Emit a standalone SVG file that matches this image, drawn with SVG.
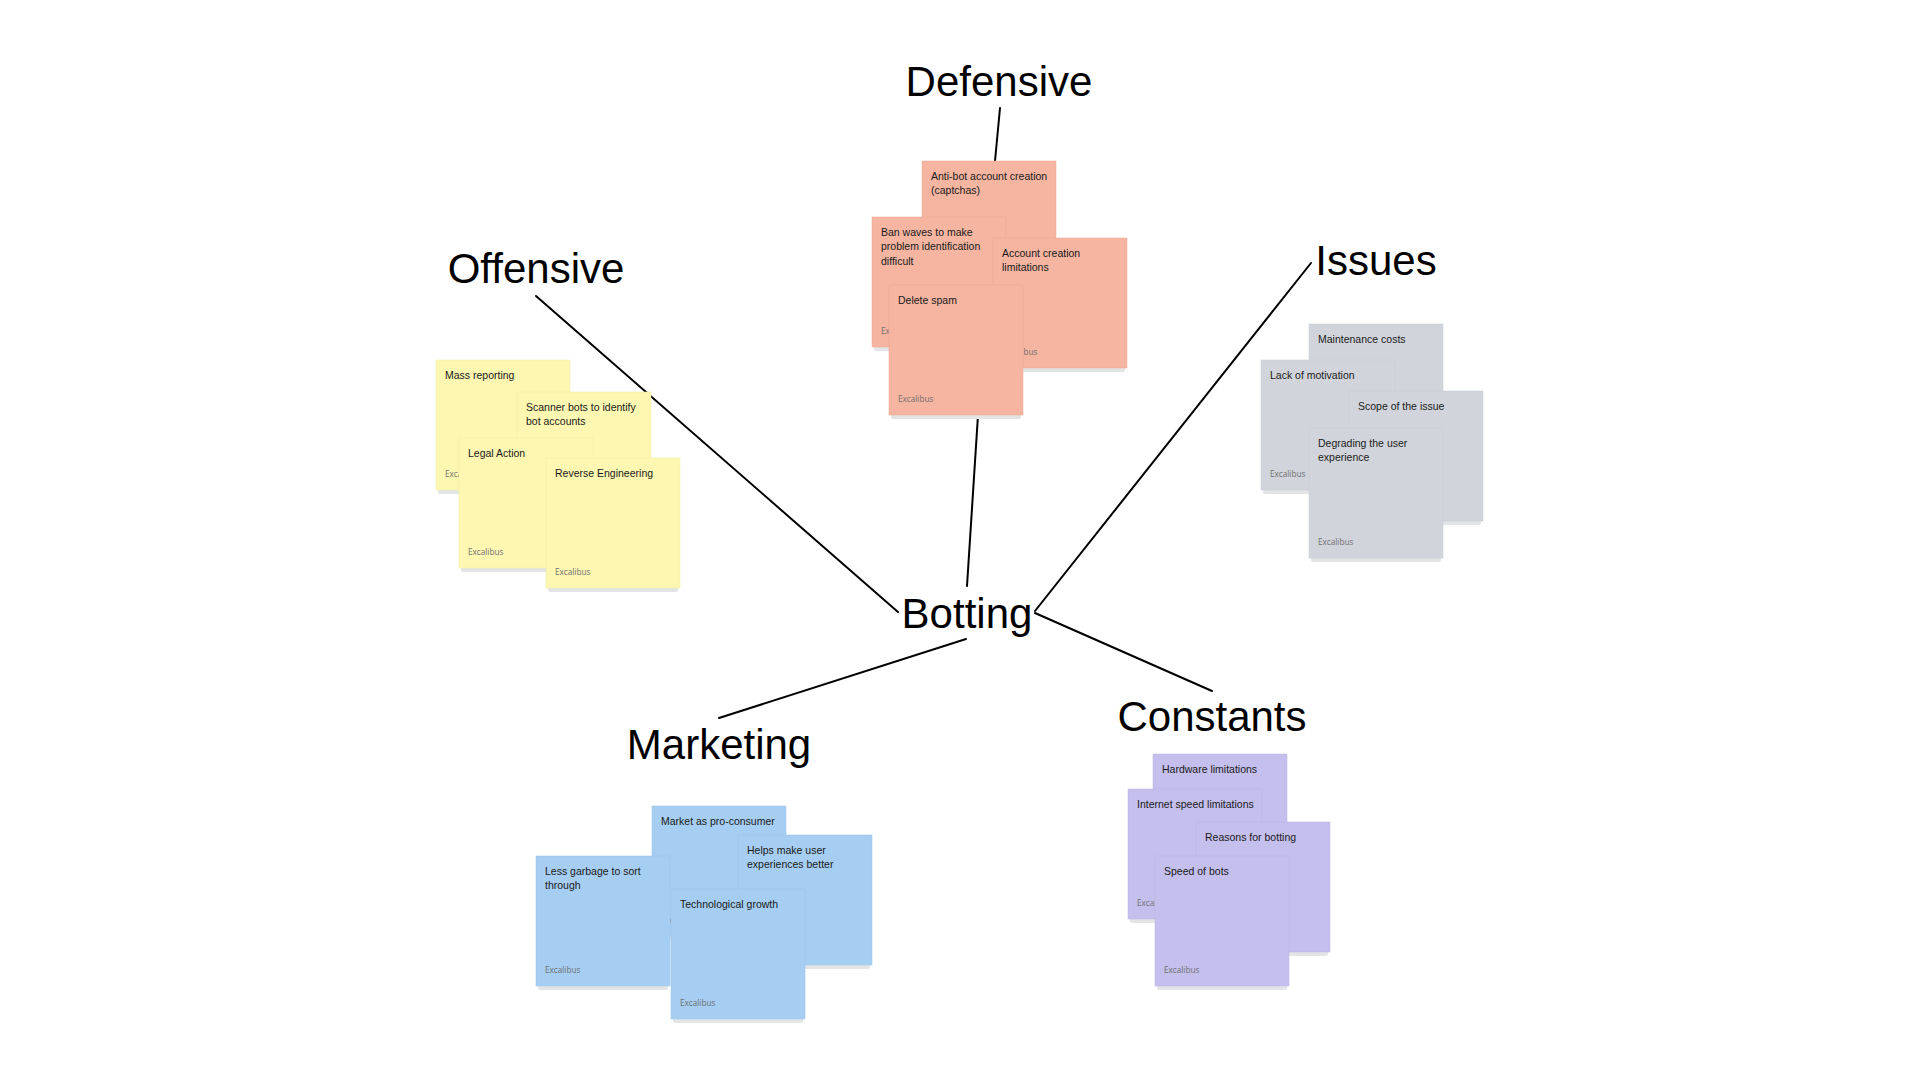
<svg xmlns="http://www.w3.org/2000/svg" width="1920" height="1080" viewBox="0 0 1920 1080">
<style>
.title{font-family:"Liberation Sans",Arial,sans-serif;font-size:42px;fill:#000;text-anchor:middle}
.nt{font-family:"Liberation Sans",Arial,sans-serif;font-size:10.5px;fill:#1a1a1a}
.au{font-family:"Open Sans","Noto Sans",sans-serif;font-size:8.2px;fill:#6f6f6f}
.sh{fill:#e2e4e6}
.sal{fill:#f5b5a1;stroke:#eda995;stroke-width:0.5}
.yel{fill:#fdf7b2;stroke:#f2eca6;stroke-width:0.5}
.gry{fill:#d1d5db;stroke:#c8ccd2;stroke-width:0.5}
.blu{fill:#a6cef2;stroke:#9cc4e8;stroke-width:0.5}
.pur{fill:#c5bfed;stroke:#bbb5e3;stroke-width:0.5}
.ln{stroke:#000;stroke-width:2;fill:none;stroke-linecap:round}
</style>
<defs>
<rect id="shadow" class="sh" x="2" y="128" width="130" height="6" rx="2"/>
</defs>
<rect width="1920" height="1080" fill="#fff"/>

<g id="connectors">
<line class="ln" x1="1000" y1="108" x2="995" y2="161"/>
<line class="ln" x1="978" y1="415" x2="967" y2="586"/>
<line class="ln" x1="536" y1="296" x2="898" y2="612"/>
<line class="ln" x1="1035" y1="611" x2="1311" y2="263"/>
<line class="ln" x1="1035" y1="613" x2="1212" y2="691"/>
<line class="ln" x1="966" y1="639" x2="719" y2="718"/>
</g>

<g id="title-defensive"><text class="title" x="999" y="96">Defensive</text></g>
<g id="title-offensive"><text class="title" x="536" y="283">Offensive</text></g>
<g id="title-issues"><text class="title" x="1376" y="275">Issues</text></g>
<g id="title-botting"><text class="title" x="967" y="628">Botting</text></g>
<g id="title-marketing"><text class="title" x="719" y="759">Marketing</text></g>
<g id="title-constants"><text class="title" x="1212" y="731">Constants</text></g>

<!-- Defensive -->
<g id="note-antibot" transform="translate(922,161)">
<use href="#shadow"/><rect class="sal" width="134" height="130"/>
<text class="nt" x="9" y="18.5">Anti-bot account creation</text>
<text class="nt" x="9" y="33">(captchas)</text>
</g>
<g id="note-banwaves" transform="translate(872,217)">
<use href="#shadow"/><rect class="sal" width="134" height="130"/>
<text class="nt" x="9" y="18.5">Ban waves to make</text>
<text class="nt" x="9" y="33">problem identification</text>
<text class="nt" x="9" y="47.5">difficult</text>
<text class="au" x="9" y="116.5">Excalibus</text>
</g>
<g id="note-accountcreation" transform="translate(993,238)">
<use href="#shadow"/><rect class="sal" width="134" height="130"/>
<text class="nt" x="9" y="18.5">Account creation</text>
<text class="nt" x="9" y="33">limitations</text>
<text class="au" x="9" y="116.5">Excalibus</text>
</g>
<g id="note-deletespam" transform="translate(889,285)">
<use href="#shadow"/><rect class="sal" width="134" height="130"/>
<text class="nt" x="9" y="18.5">Delete spam</text>
<text class="au" x="9" y="116.5">Excalibus</text>
</g>

<!-- Offensive -->
<g id="note-massreporting" transform="translate(436,360)">
<use href="#shadow"/><rect class="yel" width="134" height="130"/>
<text class="nt" x="9" y="18.5">Mass reporting</text>
<text class="au" x="9" y="116.5">Excalibus</text>
</g>
<g id="note-scannerbots" transform="translate(517,392)">
<use href="#shadow"/><rect class="yel" width="134" height="130"/>
<text class="nt" x="9" y="18.5">Scanner bots to identify</text>
<text class="nt" x="9" y="33">bot accounts</text>
</g>
<g id="note-legalaction" transform="translate(459,438)">
<use href="#shadow"/><rect class="yel" width="134" height="130"/>
<text class="nt" x="9" y="18.5">Legal Action</text>
<text class="au" x="9" y="116.5">Excalibus</text>
</g>
<g id="note-reverseengineering" transform="translate(546,458)">
<use href="#shadow"/><rect class="yel" width="134" height="130"/>
<text class="nt" x="9" y="18.5">Reverse Engineering</text>
<text class="au" x="9" y="116.5">Excalibus</text>
</g>

<!-- Issues -->
<g id="note-maintenance" transform="translate(1309,324)">
<use href="#shadow"/><rect class="gry" width="134" height="130"/>
<text class="nt" x="9" y="18.5">Maintenance costs</text>
</g>
<g id="note-lackmotivation" transform="translate(1261,360)">
<use href="#shadow"/><rect class="gry" width="134" height="130"/>
<text class="nt" x="9" y="18.5">Lack of motivation</text>
<text class="au" x="9" y="116.5">Excalibus</text>
</g>
<g id="note-scope" transform="translate(1349,391)">
<use href="#shadow"/><rect class="gry" width="134" height="130"/>
<text class="nt" x="9" y="18.5">Scope of the issue</text>
</g>
<g id="note-degrading" transform="translate(1309,428)">
<use href="#shadow"/><rect class="gry" width="134" height="130"/>
<text class="nt" x="9" y="18.5">Degrading the user</text>
<text class="nt" x="9" y="33">experience</text>
<text class="au" x="9" y="116.5">Excalibus</text>
</g>

<!-- Marketing -->
<g id="note-market" transform="translate(652,806)">
<use href="#shadow"/><rect class="blu" width="134" height="130"/>
<text class="nt" x="9" y="18.5">Market as pro-consumer</text>
<text class="au" x="9" y="116.5">Excalibus</text>
</g>
<g id="note-helps" transform="translate(738,835)">
<use href="#shadow"/><rect class="blu" width="134" height="130"/>
<text class="nt" x="9" y="18.5">Helps make user</text>
<text class="nt" x="9" y="33">experiences better</text>
</g>
<g id="note-lessgarbage" transform="translate(536,856)">
<use href="#shadow"/><rect class="blu" width="134" height="130"/>
<text class="nt" x="9" y="18.5">Less garbage to sort</text>
<text class="nt" x="9" y="33">through</text>
<text class="au" x="9" y="116.5">Excalibus</text>
</g>
<g id="note-techgrowth" transform="translate(671,889)">
<use href="#shadow"/><rect class="blu" width="134" height="130"/>
<text class="nt" x="9" y="18.5">Technological growth</text>
<text class="au" x="9" y="116.5">Excalibus</text>
</g>

<!-- Constants -->
<g id="note-hardware" transform="translate(1153,754)">
<use href="#shadow"/><rect class="pur" width="134" height="130"/>
<text class="nt" x="9" y="18.5">Hardware limitations</text>
</g>
<g id="note-internet" transform="translate(1128,789)">
<use href="#shadow"/><rect class="pur" width="134" height="130"/>
<text class="nt" x="9" y="18.5">Internet speed limitations</text>
<text class="au" x="9" y="116.5">Excalibus</text>
</g>
<g id="note-reasons" transform="translate(1196,822)">
<use href="#shadow"/><rect class="pur" width="134" height="130"/>
<text class="nt" x="9" y="18.5">Reasons for botting</text>
</g>
<g id="note-speed" transform="translate(1155,856)">
<use href="#shadow"/><rect class="pur" width="134" height="130"/>
<text class="nt" x="9" y="18.5">Speed of bots</text>
<text class="au" x="9" y="116.5">Excalibus</text>
</g>
</svg>
